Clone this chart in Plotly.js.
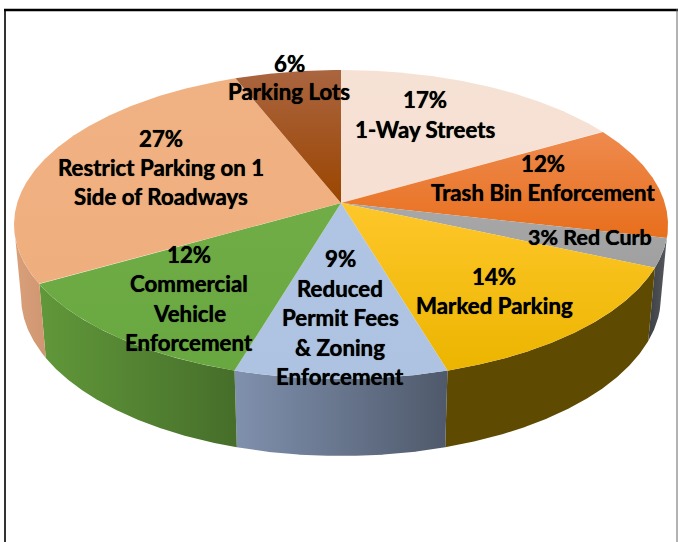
<!DOCTYPE html>
<html>
<head>
<meta charset="utf-8">
<script src="https://cdn.plot.ly/plotly-3.0.1.min.js"></script>
<style>html,body{margin:0;padding:0;background:#fff}#chart{width:678px;height:542px}</style>
</head>
<body>
<div id="chart"></div>
<script>
// ---- data ----
const categories = ["1-Way Streets","Trash Bin Enforcement","Red Curb","Marked Parking",
  "Reduced Permit Fees & Zoning Enforcement","Commercial Vehicle Enforcement",
  "Restrict Parking on 1 Side of Roadways","Parking Lots"];
const shares = [16.6,12,3,13.8,9.2,12.1,27.3,6];

// ---- styles ----
const topColors = [
  ["#f6e0d3","#f6e1d5"],["#e86f1c","#ee8a4e"],["#a0a0a0","#a8a8a8"],["#ecb500","#fec72a"],
  ["#aec2e1","#b0c4e3"],["#69a740","#70ad47"],["#efae7e","#f1b283"],["#9b4500","#aa6540"]];
const wallColors = [
  ["#c9a893","#c9a893"],["#a85a20","#a85a20"],["#3c3f44","#55585c"],["#5f4a02","#5f4a02"],
  ["#8091ae","#4f596b"],["#61983a","#466e2a"],["#d9a07a","#d09672"],["#70340a","#70340a"]];
const labelLayout = [
  {x:425,lines:[["17%",99],["1-Way Streets",129]]},
  {x:543,lines:[["12%",163],["Trash Bin Enforcement",192]]},
  {x:590,size:21.5,lines:[["3% Red Curb",237]]},
  {x:494,lines:[["14%",276],["Marked Parking",305]]},
  {x:340,lines:[["9%",258],["Reduced",288],["Permit Fees",317],["& Zoning",347],["Enforcement",376]]},
  {x:189,lines:[["12%",254],["Commercial",283],["Vehicle",313],["Enforcement",342]]},
  {x:161,lines:[["27%",138],["Restrict Parking on 1",167],["Side of Roadways",196]]},
  {x:289,lines:[["6%",63],["Parking Lots",91]]}];

// ---- perspective pie geometry: top ellipse, bottom ellipse, apex offset ----
const G = {cx:341, cy:224.5, a:327, b:154.5, k:0.139, a2:320, cy2:296.5, b2:159.5};
function rim(pct){
  const t = pct*3.6*Math.PI/180, u = Math.sin(t), v = -Math.cos(t), d = 1-G.k*v;
  return {u:u*Math.sqrt(1-G.k*G.k)/d, v:(v-G.k)/d};
}
const traces = [], tops = [];
let start = 0;
shares.forEach((s,i)=>{
  const end = start+s, rx=[], ry=[], wx=[], wy=[], bx=[], by=[];
  for(let p=start; p<=end+1e-9; p+=0.05){
    const r = rim(p), X = G.cx+G.a*r.u, Y = G.cy+G.b*r.v;
    rx.push(X); ry.push(Y);
    if(r.v>=0){ wx.push(X); wy.push(Y); bx.push(G.cx+G.a2*r.u); by.push(G.cy2+G.b2*r.v); }
  }
  if(wx.length>1){
    traces.push({type:"scatter",mode:"lines",fill:"toself",line:{width:0},name:categories[i]+" side",
      x:wx.concat(bx.reverse(),[wx[0]]), y:wy.concat(by.reverse(),[wy[0]]),
      fillgradient:{type:"horizontal",colorscale:[[0,wallColors[i][0]],[1,wallColors[i][1]]]},
      hoverinfo:"skip"});
  }
  const ax = G.cx, ay = G.cy-G.k*G.b;
  tops.push({type:"scatter",mode:"lines",fill:"toself",line:{width:0},name:categories[i],
    x:[ax].concat(rx,[ax]), y:[ay].concat(ry,[ay]),
    fillgradient:{type:"vertical",colorscale:[[0,topColors[i][0]],[1,topColors[i][1]]]},
    hoverinfo:"skip"});
  start = end;
});

const annotations = [];
labelLayout.forEach(l=>l.lines.forEach(([t,y])=>annotations.push({
  x:l.x,y:y,xref:"x",yref:"y",text:t,showarrow:false,xanchor:"center",yanchor:"middle",
  font:{family:"Lato, Carlito, sans-serif",size:l.size||22.3,color:"#000",weight:700,shadow:"0 0 0.7px #000"}
})));

const layout = {
  width:678,height:542,margin:{l:0,r:0,t:0,b:0},showlegend:false,hovermode:false,
  paper_bgcolor:"#fff",plot_bgcolor:"#fff",
  xaxis:{range:[0,678],visible:false,fixedrange:true},
  yaxis:{range:[542,0],visible:false,fixedrange:true},
  annotations:annotations,
  shapes:[
    {type:"line",xref:"x",yref:"y",x0:5,x1:5,y0:9,y1:542,line:{color:"#333",width:2}},
    {type:"line",xref:"x",yref:"y",x0:4,x1:678,y0:10,y1:10,line:{color:"#000",width:2.5}},
    {type:"line",xref:"x",yref:"y",x0:677,x1:677,y0:9,y1:542,line:{color:"#666",width:1}}
  ]
};
Plotly.newPlot("chart",traces.concat(tops),layout,{displayModeBar:false,staticPlot:true});
</script>
</body>
</html>
